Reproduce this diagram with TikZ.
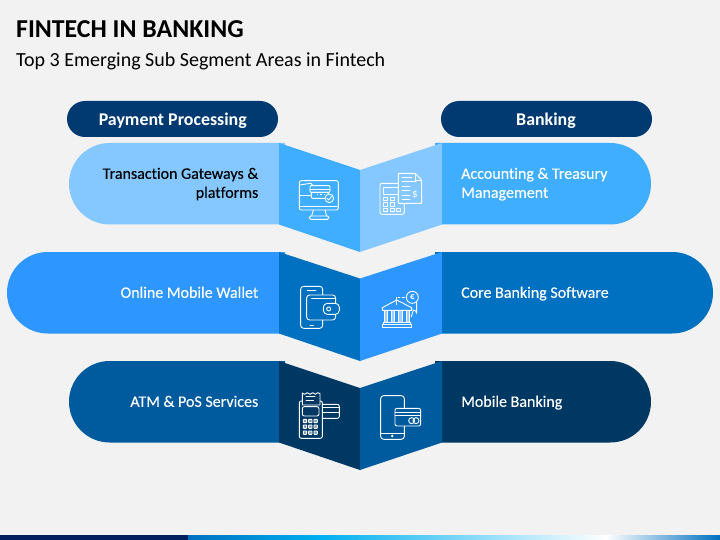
\documentclass[tikz,border=0pt]{standalone}
\usepackage{fontspec}
\setmainfont[Ligatures=NoCommon]{Carlito}
\newfontfamily\lblfont[Ligatures=NoCommon,FakeBold=0.12]{Carlito}
\definecolor{bg}{HTML}{F2F2F2}
\definecolor{headc}{HTML}{003A70}
\definecolor{aL}{HTML}{85C8FF}
\definecolor{aD}{HTML}{40AEFF}
\definecolor{bL}{HTML}{2E96FF}
\definecolor{bD}{HTML}{0070C0}
\definecolor{cL}{HTML}{005A9E}
\definecolor{cD}{HTML}{003864}
\definecolor{navy}{HTML}{002060}
\definecolor{cyanb}{HTML}{00B0F0}
\tikzset{
  headpill/.style={fill=headc,rounded corners=18pt},
  lbl/.style={font=\lblfont\fontsize{16}{19}\selectfont,inner sep=0pt},
  lblL/.style={lbl,anchor=east,align=right,text=white},
  lblR/.style={lbl,anchor=west,align=left,text=white},
  headtxt/.style={font=\fontsize{17.9}{20}\selectfont\bfseries,text=white,inner sep=0pt,anchor=base},
  ico/.style={draw=white,line width=0.9pt,line join=round,line cap=round},
}
\newcommand{\pillLeft}[4]{\fill[#4] (#3,#2) -- (#1+40.75,#2) arc[start angle=90,end angle=270,radius=40.75,y radius=-40.75] -- (#3,#2+81.5) -- cycle;}
\newcommand{\pillRight}[4]{\fill[#4] (#3,#2) -- (#1-40.75,#2) arc[start angle=90,end angle=-90,radius=40.75,y radius=-40.75] -- (#3,#2+81.5) -- cycle;}
\begin{document}
\begin{tikzpicture}[x=1pt,y=-1pt]
\useasboundingbox (0,0) rectangle (720,540);
\fill[bg] (0,0) rectangle (720,540);
% footer
\fill[navy] (0,535) rectangle (188,540);
\shade[left color=bD,right color=cyanb] (188,535) rectangle (321,540);
\shade[left color=cyanb,right color=white] (321,535) rectangle (606,540);
\shade[left color=white,right color=bD] (606,535) rectangle (720,540);
% titles
\node[anchor=base west,inner sep=0pt,font=\fontsize{25.8}{28}\selectfont\bfseries] (title) at (16,37.7) {FINTECH IN BANKING};
\node[anchor=base west,inner sep=0pt,font=\fontsize{20}{24}\selectfont] (sub) at (16,66.7) {Top 3 Emerging Sub Segment Areas in Fintech};
% headers
\fill[headpill] (67,101) rectangle (278,137);
\fill[headpill] (441,101) rectangle (652,137);
\node[headtxt] (h1) at (172.8,125.8) {Payment Processing};
\node[headtxt] (h2) at (546,125.8) {Banking};
% row 1
\pillLeft{69}{143}{285}{aL}
\pillRight{651}{143}{435}{aD}
\fill[aD] (279,143) -- (360,170) -- (360,252) -- (279,224.5) -- cycle;
\fill[aL] (442,143) -- (360,170) -- (360,252) -- (442,224.5) -- cycle;
% row 2
\pillLeft{7}{252}{285}{bL}
\pillRight{713}{252}{435}{bD}
\fill[bD] (279,252) -- (360,278.5) -- (360,361) -- (279,333.5) -- cycle;
\fill[bL] (442,252) -- (360,278.5) -- (360,361) -- (442,333.5) -- cycle;
% row 3
\pillLeft{69}{361}{285}{cL}
\pillRight{651}{361}{435}{cD}
\fill[cD] (279,361) -- (360,388) -- (360,470) -- (279,442.5) -- cycle;
\fill[cL] (442,361) -- (360,388) -- (360,470) -- (442,442.5) -- cycle;
% labels
\node[lblL,text=black] (t1) at (258.5,184.5) {\strut Transaction Gateways \&\\\strut platforms};
\node[lblR] (t2) at (461,184.5) {\strut Accounting \& Treasury\\\strut Management};
\node[lblL] (t3) at (258.5,294) {\strut Online Mobile Wallet};
\node[lblR] (t4) at (461,294) {\strut Core Banking Software};
\node[lblL] (t5) at (258.5,403) {\strut ATM \& PoS Services};
\node[lblR] (t6) at (461,403) {\strut Mobile Banking};
% icon: monitor
\begin{scope}[shift={(270,130)},x=0.3333pt,y=-0.3333pt,ico]
\draw[rounded corners=2pt] (88,152) rectangle (205,240);
\draw (88,228) -- (205,228);
\draw (130,240) -- (125,258) (165,240) -- (170,258);
\draw[rounded corners=1.5pt] (118,258) rectangle (177,268);
\draw (88,165) -- (122,160) -- (130,167);
\draw (88,195) -- (122,195);
\draw[rounded corners=1pt,fill=aD] (120,167) rectangle (180,187);
\draw[rounded corners=1pt,fill=aD] (124,187) rectangle (175,205);
\draw (120,178) -- (180,178);
\draw[line width=1.1pt,dotted,line cap=butt] (142,193) -- (165,193);
\draw[fill=aD] (178,205) circle (13);
\draw (171,205) -- (176,210) -- (185,199);
\end{scope}
% icon: calculator and invoice
\begin{scope}[shift={(270,130)},x=0.3333pt,y=-0.3333pt,ico]
\draw[rounded corners=2pt] (330,160) rectangle (403,253);
\draw (340,172) rectangle (385,192);
\foreach \yy in {202,218} {\draw (340,\yy) rectangle +(12,10); \draw (360,\yy) rectangle +(12,10);}
\draw (340,235) rectangle +(12,10); \draw (360,235) rectangle +(12,10); \draw (378,235) rectangle +(14,10);
\draw[fill=aL,rounded corners=0.5pt] (385,130) -- (435,130) -- (455,150) -- (455,220) -- (385,220) -- cycle;
\draw (435,130) -- (435,150) -- (455,150);
\draw (396,143) -- (425,143);
\draw (396,155) -- (438,155);
\draw (396,168) -- (420,168);
\draw (396,182) -- (420,182);
\draw (396,195) -- (420,195);
\draw (396,208) -- (420,208);
\node[draw=none,text=white,inner sep=0pt,font=\fontsize{11}{11}\selectfont] (dollar) at (435,194) {\$};
\end{scope}
% icon: wallet and phone
\begin{scope}[shift={(270,245)},x=0.3333pt,y=-0.3333pt,ico]
\draw[rounded corners=3pt] (92,124) rectangle (158,250);
\draw (112,135) -- (138,135) (120,241) -- (130,241);
\draw[rounded corners=3pt,fill=bD] (110,150) rectangle (197,225);
\draw (125,160) -- (197,160);
\draw[rounded corners=4pt,fill=bD] (160,175) rectangle (208,208);
\draw (176,192) circle (6);
\end{scope}
% icon: bank
\begin{scope}[shift={(270,245)},x=0.3333pt,y=-0.3333pt,ico]
\draw (337,188) -- (380,165) -- (425,188) -- (425,196) -- (337,196) -- cycle;
\foreach \xx in {342,364,386,408} {\draw[fill=white,fill opacity=0.55] (\xx,196) rectangle +(10,36);}
\draw (340,232) rectangle (422,238);
\draw (337,238) rectangle (425,247);
\draw (380,178) -- (380,157);
\draw (385,157) -- (390,157) (397,157) -- (403,157);
\draw (427,157) circle (18);
\node[draw=none,text=white,inner sep=0pt,font=\fontsize{9}{9}\selectfont\bfseries] (euro) at (427,157) {€};
\draw (440,172) -- (440,205) arc (0:-90:10) -- (424,215);
\end{scope}
% icon: POS terminal
\begin{scope}[shift={(270,355)},x=0.3333pt,y=-0.3333pt,ico]
\draw[rounded corners=2pt] (88,138) rectangle (157,250);
\draw[fill=cD] (97,150) -- (97,114) -- (104,118) -- (112,113) -- (120,118) -- (128,113) -- (136,118) -- (143,113) -- (150,116) -- (150,150) -- cycle;
\draw (108,125) -- (135,125) (108,135) -- (130,135);
\draw[rounded corners=2pt] (97,155) rectangle (147,183);
\foreach \yy in {198,215,233} \foreach \xx in {105,121,137} {\draw[fill=white,fill opacity=0.5,rounded corners=0.5pt] (\xx-5,\yy-5) rectangle (\xx+5,\yy+5);}
\draw[rounded corners=2pt] (157,148) -- (208,148) -- (208,190) -- (157,190);
\draw (157,158) -- (208,158) (157,172) -- (208,172);
\end{scope}
% icon: phone with card
\begin{scope}[shift={(270,355)},x=0.3333pt,y=-0.3333pt,ico]
\draw[rounded corners=3pt] (332,122) rectangle (403,253);
\draw (332,235) -- (403,235);
\fill[white,draw=none] (367,243) circle (4);
\draw[rounded corners=2pt,fill=cL] (375,160) rectangle (452,213);
\draw (375,172) -- (452,172) (375,182) -- (452,182);
\draw (425,197) circle (9) (438,197) circle (9);
\end{scope}
\end{tikzpicture}
\end{document}
